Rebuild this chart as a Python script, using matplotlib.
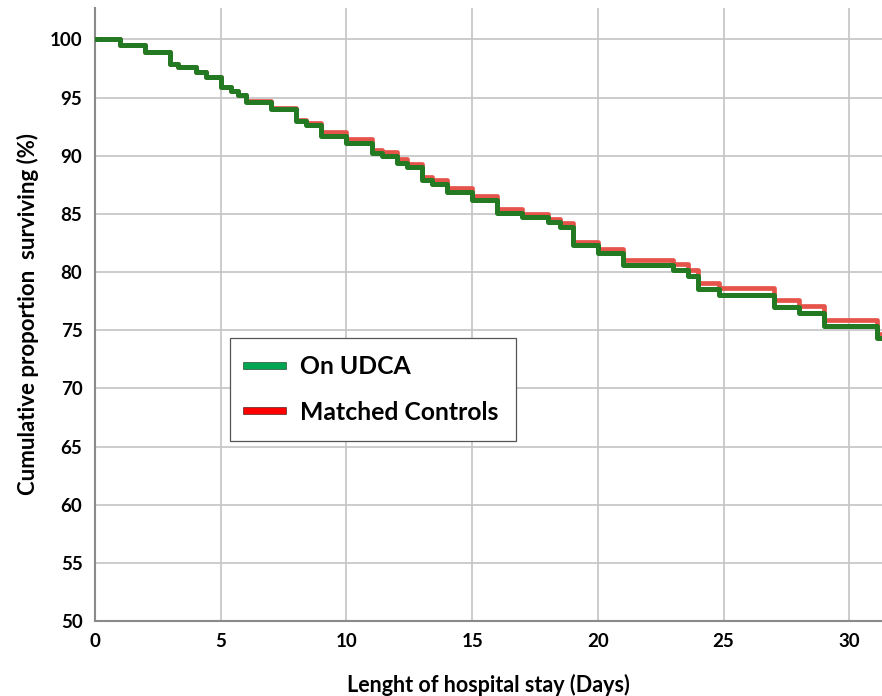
import matplotlib
matplotlib.use('Agg')
import matplotlib.pyplot as plt
import matplotlib.patheffects as pe
from matplotlib.lines import Line2D

plt.rcParams['font.family'] = ['Lato', 'DejaVu Sans']

# Kaplan-Meier style steps (days, % surviving)
udca_days = [0, 1, 2, 3, 3.3, 4, 4.4, 5, 5.4, 5.7, 6, 7, 8, 8.4, 9, 10, 11, 11.4,
             12, 12.4, 13, 13.4, 14, 15, 16, 17, 18, 18.5, 19, 20, 21, 23, 23.6,
             24, 24.8, 27, 28, 29, 31.1, 31.3]
udca_surv = [100, 99.5, 98.9, 97.9, 97.6, 97.2, 96.8, 95.9, 95.6, 95.2, 94.6, 94.0,
             93.0, 92.6, 91.7, 91.1, 90.2, 90.0, 89.4, 89.0, 87.9, 87.6, 86.9, 86.2,
             85.1, 84.7, 84.3, 83.9, 82.3, 81.6, 80.6, 80.2, 79.7, 78.5, 78.0, 77.0,
             76.5, 75.4, 74.3, 74.3]

ctrl_days = udca_days
ctrl_surv = [100, 99.5, 98.9, 97.9, 97.6, 97.2, 96.8, 95.9, 95.6, 95.2, 94.7, 94.1,
             93.1, 92.8, 92.0, 91.4, 90.5, 90.3, 89.7, 89.3, 88.2, 87.9, 87.2, 86.5,
             85.4, 85.0, 84.6, 84.2, 82.6, 82.0, 81.0, 80.7, 80.2, 79.1, 78.6, 77.6,
             77.1, 75.9, 74.7, 74.7]

x_ticks = [0, 5, 10, 15, 20, 25, 30]
y_ticks = [50, 55, 60, 65, 70, 75, 80, 85, 90, 95, 100]

fig = plt.figure(figsize=(8.82, 6.96), dpi=100)
ax = fig.add_axes([0.1077, 0.1078, 0.8923, 0.8807])

ax.step(ctrl_days, ctrl_surv, where='post', color='#e5534b', lw=3.4, zorder=3)
ax.step(udca_days, udca_surv, where='post', color='#237a23', lw=3.6, zorder=4)

ax.set_xlim(0, 31.3)
ax.set_ylim(50, 102.7)
ax.set_xticks(x_ticks)
ax.set_yticks(y_ticks)
ax.grid(True, color='#c4c4c4', lw=1.2)
ax.set_axisbelow(True)
ax.tick_params(length=0, labelsize=13.5)
ax.tick_params(axis='y', pad=9)
ax.tick_params(axis='x', pad=9)
for lab in ax.get_xticklabels() + ax.get_yticklabels():
    lab.set_fontweight('bold')

for s in ['top', 'right']:
    ax.spines[s].set_visible(False)
for s in ['left', 'bottom']:
    ax.spines[s].set_color('#8a8a8a')
    ax.spines[s].set_linewidth(1.5)

ax.set_xlabel('Lenght of hospital stay (Days)', fontsize=15.5, fontweight='bold', labelpad=17)
ax.set_ylabel('Cumulative proportion  surviving (%)', fontsize=16, fontweight='bold', labelpad=8)

handles = [
    Line2D([], [], color='#00a651', lw=4.5,
           path_effects=[pe.Stroke(linewidth=5.5, foreground='#2d4d35'), pe.Normal()]),
    Line2D([], [], color='#ff0000', lw=4.5,
           path_effects=[pe.Stroke(linewidth=5.5, foreground='#5a2020'), pe.Normal()]),
]
leg = ax.legend(handles, ['On UDCA', 'Matched Controls'], loc='upper left',
                bbox_to_anchor=(0.1715, 0.4617), borderaxespad=0, fancybox=False,
                edgecolor='#555555', framealpha=1, handlelength=1.45, handletextpad=0.7,
                labelspacing=0.9, borderpad=0.7, prop={'weight': 'bold', 'size': 17.8})
leg.get_frame().set_linewidth(0.9)

fig.savefig('out.png', dpi=100)
